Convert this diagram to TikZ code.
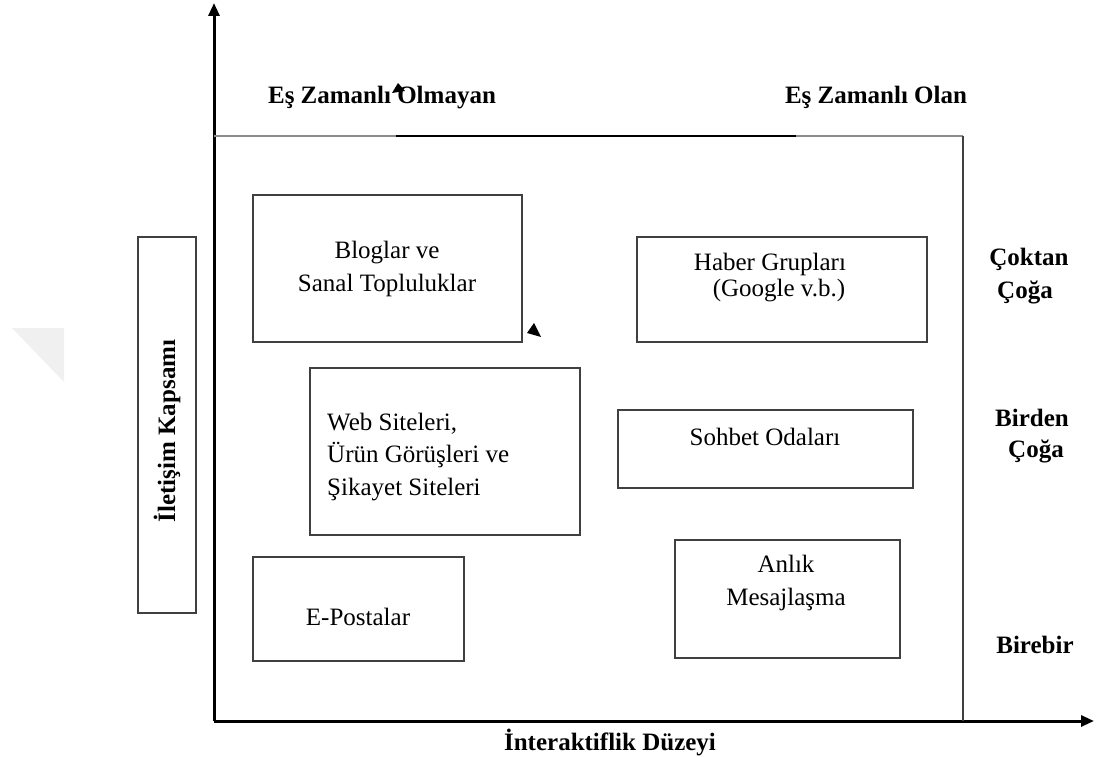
\documentclass[tikz,border=0pt]{standalone}
\usepackage{fontspec}
\setmainfont{Liberation Serif}
\usetikzlibrary{arrows.meta}
\begin{document}
\begin{tikzpicture}[x=1pt,y=-1pt,
  axis/.style={line width=3pt,-{Triangle[length=13pt,width=11pt]}},
  frame/.style={line width=1.6pt,draw=black!75},
  boxst/.style={draw=black!75,line width=1.6pt,inner sep=0pt,anchor=north west},
  lbl/.style={font=\fontsize{25}{32.5}\selectfont,inner sep=0pt},
  blbl/.style={font=\fontsize{25}{32.5}\selectfont\bfseries,inner sep=0pt}]
\useasboundingbox (0,0) rectangle (1096,757);
% faint gray triangle
\fill[black!6] (12,328) -- (64,328) -- (64,382) -- cycle;
% axes
\coordinate (O) at (214,721);
\coordinate (Ytop) at (214,3);
\coordinate (Xend) at (1094,721);
\draw[axis] (O) -- (Ytop);
\draw[axis] (O) -- (Xend);
% frame
\coordinate (F1) at (214,136);
\coordinate (F2) at (396,136);
\coordinate (F3) at (796,136);
\coordinate (F4) at (963,136);
\coordinate (F5) at (963,721);
\draw[line width=1.6pt,draw=black!45] (F1) -- (F2);
\draw[line width=1.6pt,draw=black] (F2) -- (F3);
\draw[line width=1.6pt,draw=black!45] (F3) -- (F4);
\draw[frame] (F4) -- (F5);
% column headers
\node[blbl] (h1) at (382,98) {Eş Zamanlı Olmayan};
\node[blbl] (h2) at (876,97) {Eş Zamanlı Olan};
% stray arrowheads
\fill (398,83) -- (392,93) -- (405,91) -- cycle;
\fill (534,323) -- (527,333) -- (541,337) -- cycle;
% vertical axis label box
\node[boxst,minimum width=58pt,minimum height=376pt] (kb) at (137,236) {};
\node[blbl,rotate=90] (kt) at (167,431) {İletişim Kapsamı};
% boxes
\node[boxst,minimum width=269pt,minimum height=147pt] (b1) at (252,194) {};
\node[lbl,align=center] (t1) at (387,269) {Bloglar ve\\Sanal Topluluklar};
\node[boxst,minimum width=290pt,minimum height=105pt] (b2) at (636,236) {};
\node[lbl] (t2a) at (770,264) {Haber Grupları};
\node[lbl] (t2b) at (779,291) {(Google v.b.)};
\node[boxst,minimum width=270pt,minimum height=167pt] (b3) at (309,367) {};
\node[lbl,align=left,anchor=west] (t3) at (327,457) {Web Siteleri,\\Ürün Görüşleri ve\\Şikayet Siteleri};
\node[boxst,minimum width=295pt,minimum height=78pt] (b4) at (617,409) {};
\node[lbl] (t4) at (765,437) {Sohbet Odaları};
\node[boxst,minimum width=211pt,minimum height=104pt] (b5) at (252,556) {};
\node[lbl] (t5) at (358,617) {E-Postalar};
\node[boxst,minimum width=225pt,minimum height=118pt] (b6) at (674,539) {};
\node[lbl,align=center] (t6) at (786,583) {Anlık\\Mesajlaşma};
% row labels
\node[blbl] (r1) at (1029,259) {Çoktan};
\node[blbl] (r1b) at (1025,292) {Çoğa};
\node[blbl] (r2) at (1032,418) {Birden};
\node[blbl] (r2b) at (1036,451) {Çoğa};
\node[blbl] (r3) at (1035,645) {Birebir};
% x axis label
\node[blbl] (xl) at (610,742) {İnteraktiflik Düzeyi};
\end{tikzpicture}
\end{document}
